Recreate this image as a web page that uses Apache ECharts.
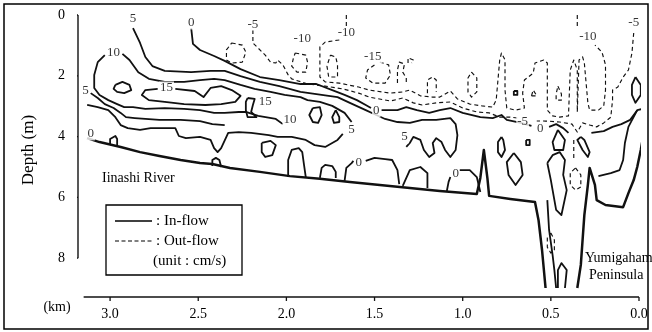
<!DOCTYPE html>
<html><head><meta charset="utf-8">
<script src="https://cdn.jsdelivr.net/npm/echarts@6/dist/echarts.min.js"></script>
<style>html,body{margin:0;padding:0;background:#fff}#c{width:652px;height:332px}</style>
</head><body><div id="c"></div>
<script>
// ---- axes ----
const xTicks = [0, 0.5, 1.0, 1.5, 2.0, 2.5, 3.0];
const yTicks = [0, 2, 4, 6, 8];
const xMaxKm = 3.182;
const yMaxDepth = 9.276;
const xAxisStartKm = 3.15;

// ---- channel bed (km, depth m) ----
const bedMain = [[3.13,4.05],[3.06,4.18],[2.94,4.34],[2.83,4.51],[2.72,4.64],[2.60,4.77],[2.49,4.87],[2.42,4.90],[2.32,5.03],[2.15,5.16],[1.98,5.30],[1.81,5.39],[1.64,5.49],[1.47,5.59],[1.30,5.69],[1.13,5.79],[0.92,5.89],[0.90,5.36],[0.88,4.44],[0.86,5.36],[0.85,5.95],[0.73,6.05],[0.59,6.15],[0.57,6.74],[0.55,7.73],[0.53,8.98]];
const bedRight = [[0.35,8.98],[0.33,8.22],[0.32,7.40],[0.31,6.58],[0.29,5.59],[0.28,5.03],[0.27,5.03],[0.25,5.59],[0.24,6.09],[0.19,6.25],[0.09,6.32],[0.06,5.86],[0.03,5.43],[0.01,5.00],[-0.01,4.44],[-0.03,3.78],[-0.05,3.19]];

// ---- in-flow contours (solid) ----
const in0a = [[2.54,0.43],[2.53,0.95],[2.49,1.15],[2.41,1.35],[2.35,1.51],[2.26,1.78],[2.15,2.04],[2.04,2.14],[1.92,2.27],[1.83,2.27],[1.74,2.47],[1.67,2.63],[1.60,2.80],[1.55,2.96],[1.52,3.06]];
const in0b = [[1.46,3.13],[1.37,3.13],[1.32,3.03],[1.26,3.13],[1.19,3.22],[1.13,3.13],[1.07,3.06],[1.00,3.22],[0.90,3.36],[0.83,3.39],[0.78,3.29],[0.75,3.45],[0.67,3.55],[0.61,3.65]];
const in0c = [[0.51,3.68],[0.47,3.59],[0.43,3.72],[0.40,3.88]];
const in0d = [[0.27,3.88],[0.20,3.82],[0.15,3.68],[0.10,3.59],[0.05,3.45],[0.01,3.13]];
const in5 = [[2.87,0.43],[2.83,0.92],[2.80,1.38],[2.76,1.68],[2.69,1.84],[2.54,1.88],[2.43,1.84],[2.35,1.84],[2.26,2.01],[2.15,2.20],[2.04,2.34],[1.92,2.53],[1.83,2.60],[1.71,2.70],[1.64,2.89],[1.55,3.13],[1.49,3.29],[1.44,3.42],[1.37,3.52],[1.30,3.55],[1.23,3.45],[1.15,3.45],[1.07,3.39],[1.04,3.59],[1.03,3.95],[1.04,4.44],[1.07,4.67],[1.10,4.44],[1.12,4.18],[1.15,4.05],[1.17,4.21],[1.16,4.54],[1.19,4.67],[1.22,4.44],[1.24,4.11],[1.28,4.01],[1.30,4.21],[1.32,4.34]];
const in10L = [[3.03,1.32],[3.07,1.55],[3.09,1.97],[3.09,2.40],[3.06,2.63],[3.01,2.80],[2.96,2.93],[2.92,3.03],[2.87,3.03],[2.80,3.09],[2.69,3.06],[2.58,3.09],[2.49,3.13],[2.41,3.22],[2.35,3.22],[2.27,3.19],[2.23,3.19],[2.16,3.32],[2.06,3.42],[2.02,3.59]];
const in10R = [[2.93,1.28],[2.89,1.48],[2.84,1.88],[2.78,2.10],[2.69,2.20],[2.58,2.20],[2.49,2.14],[2.41,2.10],[2.35,2.14],[2.26,2.30],[2.18,2.43],[2.09,2.53],[2.01,2.63],[1.92,2.70],[1.88,2.80],[1.81,2.86],[1.74,2.99],[1.67,3.22],[1.63,3.52]];
const in15 = [[2.63,2.43],[2.52,2.50],[2.47,2.70],[2.43,2.40],[2.37,2.34],[2.31,2.47],[2.26,2.66],[2.29,2.86],[2.37,2.93],[2.46,2.96],[2.58,2.93],[2.69,2.86],[2.78,2.80],[2.82,2.63],[2.80,2.47],[2.73,2.43]];
const inLoopA = [[2.97,2.30],[2.93,2.20],[2.89,2.30],[2.88,2.47],[2.92,2.57],[2.96,2.53],[2.98,2.43],[2.97,2.30]];
const inLoop15 = [[2.22,2.73],[2.18,2.76],[2.19,2.96],[2.20,3.19],[2.17,3.36],[2.22,3.36],[2.23,3.13],[2.23,2.86],[2.22,2.73]];
const in5L = [[3.11,2.57],[3.07,2.73],[3.03,2.93],[2.98,3.06],[2.94,3.22],[2.91,3.36],[2.86,3.39],[2.80,3.42],[2.72,3.45],[2.60,3.45],[2.49,3.49],[2.42,3.59],[2.35,3.62]];
const inLow = [[3.13,2.96],[3.07,3.03],[3.01,3.13],[2.97,3.36],[2.94,3.62],[2.90,3.72],[2.83,3.78],[2.77,3.72],[2.69,3.72],[2.63,3.72],[2.61,3.98],[2.57,4.05],[2.49,4.01],[2.43,4.11],[2.41,4.38],[2.39,4.51],[2.37,4.38],[2.33,3.88],[2.27,3.85],[2.20,3.88],[2.10,3.95],[2.05,4.01],[1.97,4.01],[1.89,4.11],[1.84,4.28],[1.78,4.34],[1.71,4.11],[1.68,3.91]];
const inBlobA = [[1.85,3.06],[1.81,3.03],[1.80,3.29],[1.82,3.55],[1.85,3.52],[1.87,3.29],[1.85,3.06]];
const inBlobB = [[1.72,3.13],[1.70,3.36],[1.70,3.52],[1.73,3.55],[1.74,3.36],[1.72,3.13]];
const inBlobC = [[2.14,4.21],[2.09,4.14],[2.06,4.28],[2.08,4.61],[2.12,4.67],[2.14,4.51],[2.14,4.21]];
const inArchL = [[3.00,4.28],[3.00,4.08],[2.97,3.98],[2.96,4.08],[2.96,4.31]];
const inArchM = [[2.42,4.97],[2.42,4.77],[2.40,4.70],[2.38,4.77],[2.37,5.00]];
const inArch1 = [[1.99,5.33],[1.99,4.77],[1.97,4.44],[1.93,4.38],[1.91,4.51],[1.90,4.93],[1.89,5.33]];
const inArch2 = [[1.81,5.36],[1.80,5.03],[1.78,4.93],[1.74,4.97],[1.72,5.16],[1.72,5.36]];
const inArc3a = [[1.67,5.46],[1.66,5.03],[1.63,4.87],[1.62,4.80]];
const inArc3b = [[1.55,4.80],[1.50,4.70],[1.44,4.74],[1.40,4.77],[1.37,5.10],[1.36,5.56]];
const inArch4 = [[1.34,5.62],[1.30,5.10],[1.24,5.00],[1.20,5.20],[1.20,5.69]];
const inArc5a = [[1.09,5.79],[1.08,5.49],[1.07,5.33]];
const inArc5b = [[1.02,5.10],[0.96,5.10],[0.92,5.33],[0.90,5.82]];
const inR1 = [[0.78,4.01],[0.77,4.11],[0.76,4.44],[0.78,4.67],[0.80,4.51],[0.80,4.18],[0.78,4.01]];
const inR2 = [[0.71,4.54],[0.67,4.84],[0.66,5.26],[0.70,5.59],[0.74,5.26],[0.75,4.84],[0.71,4.54]];
const inR3 = [[0.64,4.11],[0.62,4.11],[0.62,4.28],[0.64,4.28],[0.64,4.11]];
const inR3b = [[0.71,2.50],[0.69,2.50],[0.69,2.63],[0.71,2.63],[0.71,2.50]];
const inR4 = [[0.46,3.78],[0.42,4.11],[0.43,4.44],[0.48,4.44],[0.49,4.18],[0.46,3.78]];
const inR5 = [[0.33,4.01],[0.31,4.11],[0.28,4.51],[0.29,4.67],[0.32,4.44],[0.35,4.11],[0.33,4.01]];
const inR6 = [[0.52,4.87],[0.49,4.61],[0.45,4.51],[0.42,4.77],[0.43,5.26],[0.41,5.76],[0.44,6.58],[0.47,6.41],[0.49,5.76],[0.50,5.43],[0.52,4.87]];
const inR7 = [[0.52,6.09],[0.51,7.07],[0.49,7.90],[0.48,8.39],[0.47,8.98]];
const inR8 = [[0.46,8.98],[0.46,8.39],[0.44,8.16],[0.41,8.39],[0.42,8.98]];
const inR9 = [[0.02,2.04],[-0.01,2.30],[-0.01,2.63],[0.02,2.89],[0.04,2.63],[0.04,2.30],[0.02,2.04]];
const inR10 = [[-0.04,3.06],[0.01,3.13],[0.06,3.68],[0.08,4.21],[0.09,4.77],[0.11,5.10],[0.16,5.20],[0.23,5.30]];

// ---- out-flow contours (dashed) ----
const out10top = [[1.66,0.00],[1.66,0.36]];
const out10 = [[1.70,0.82],[1.78,0.89],[1.81,1.05],[1.81,2.04],[1.78,2.20],[1.70,2.24],[1.59,2.37],[1.53,2.47],[1.41,2.57],[1.34,2.53],[1.30,2.47],[1.24,2.66],[1.17,2.70],[1.13,2.70],[1.07,2.50],[1.03,2.76],[0.96,2.93],[0.89,2.99],[0.83,3.03],[0.81,2.80],[0.80,2.14],[0.79,1.48],[0.78,1.25],[0.76,1.48],[0.76,2.47],[0.75,3.06],[0.70,3.13],[0.65,3.06],[0.66,2.57],[0.65,2.14],[0.60,1.91],[0.59,1.58],[0.54,1.48],[0.52,1.58],[0.52,2.47],[0.52,3.13],[0.49,3.32],[0.45,3.36],[0.40,3.32],[0.39,1.81],[0.37,1.48],[0.35,1.81],[0.35,3.19],[0.34,3.13],[0.34,1.48],[0.32,1.38],[0.31,1.58],[0.29,2.89],[0.28,3.13],[0.23,3.13],[0.20,2.99],[0.19,2.47],[0.19,1.64],[0.21,1.22],[0.25,0.99]];
const out10rTop = [[0.35,0.00],[0.35,0.43]];
const out5 = [[2.19,0.49],[2.19,0.92],[2.16,1.09],[2.12,1.32],[2.09,1.55],[2.06,1.58],[2.05,1.48],[2.02,1.64],[1.99,1.97],[1.97,2.10],[1.88,2.27],[1.78,2.34],[1.68,2.43],[1.59,2.57],[1.53,2.70],[1.41,2.83],[1.34,2.73],[1.28,2.89],[1.23,2.96],[1.15,2.89],[1.07,2.86],[1.00,3.06],[0.92,3.19],[0.85,3.22],[0.79,3.36],[0.73,3.36],[0.69,3.39]];
const out5R = [[0.03,0.59],[0.04,1.25],[0.06,1.81],[0.09,2.04],[0.12,2.37],[0.15,2.47],[0.15,2.80],[0.16,3.36],[0.20,3.55],[0.24,3.68],[0.28,3.62],[0.32,3.55],[0.35,3.85],[0.38,3.59],[0.45,3.52],[0.52,3.49],[0.58,3.49]];
const outLoopA = [[2.31,0.92],[2.25,0.99],[2.23,1.22],[2.25,1.55],[2.31,1.58],[2.34,1.48],[2.34,1.15],[2.31,0.92]];
const outLoopB = [[1.95,1.25],[1.89,1.32],[1.88,1.55],[1.89,1.88],[1.94,1.88],[1.97,1.68],[1.96,1.41],[1.95,1.25]];
const outLoopC = [[1.75,1.32],[1.72,1.38],[1.71,1.64],[1.71,2.04],[1.76,2.04],[1.77,1.68],[1.75,1.32]];
const out15 = [[1.47,1.55],[1.42,1.64],[1.41,1.97],[1.44,2.24],[1.51,2.24],[1.55,2.07],[1.54,1.81],[1.50,1.64]];
const outLoopE = [[1.37,2.24],[1.37,1.81],[1.36,1.55],[1.33,1.61],[1.34,1.88],[1.32,2.07],[1.32,2.24]];
const outLoopF = [[1.31,1.58],[1.31,1.41],[1.28,1.48],[1.29,1.58]];
const outLoopG = [[1.20,2.57],[1.20,2.14],[1.17,2.04],[1.15,2.14],[1.15,2.53]];
const outLoopH = [[0.95,1.88],[0.92,2.07],[0.92,2.53],[0.95,2.70],[0.97,2.53],[0.97,2.07],[0.95,1.88]];
const outLoopI = [[0.61,2.66],[0.60,2.47],[0.58,2.66],[0.61,2.66]];
const outLoopJ = [[0.46,2.34],[0.44,2.60],[0.44,2.80],[0.47,2.80],[0.47,2.60],[0.46,2.34]];
const outLoopK = [[0.36,5.03],[0.33,5.26],[0.33,5.66],[0.36,5.76],[0.39,5.59],[0.39,5.20],[0.36,5.03]];
const outLoopL = [[0.50,7.17],[0.48,7.40],[0.48,7.73],[0.50,7.83],[0.52,7.64],[0.52,7.33],[0.50,7.17]];
const outLineM = [[0.37,4.11],[0.37,4.77]];

// ---- contour labels ----
const contourLabelText = ['5','0','10','5','15','0','-5','-10','-10','-15','15','10','5','0','5','0','0','-5','0','-10','-5'];
const contourLabelPos = [[2.87,0.13],[2.54,0.26],[2.98,1.25],[3.14,2.47],[2.68,2.40],[3.11,3.91],[2.19,0.30],[1.91,0.76],[1.66,0.59],[1.51,1.38],[2.12,2.86],[1.98,3.45],[1.63,3.78],[1.49,3.16],[1.33,4.01],[1.59,4.84],[1.04,5.20],[0.66,3.49],[0.56,3.72],[0.29,0.72],[0.03,0.26]];

const inflowSet = [in0a,in0b,in0c,in0d,in5,in10L,in10R,in15,inLoopA,inLoop15,in5L,inLow,inBlobA,inBlobB,inBlobC,inArchL,inArchM,inArch1,inArch2,inArc3a,inArc3b,inArch4,inArc5a,inArc5b,inR1,inR2,inR3,inR3b,inR4,inR5,inR6,inR7,inR8,inR9,inR10];
const outflowSet = [out10top,out10,out10rTop,out5,out5R,outLoopA,outLoopB,outLoopC,out15,outLoopE,outLoopF,outLoopG,outLoopH,outLoopI,outLoopJ,outLoopK,outLoopL,outLineM];

const FONT = 'Liberation Serif';
const X_TICK_LEN = 0.13;   // in depth units (about 4 px)
const Y_TICK_LEN = 0.03;   // in km units (about 5 px)
function lineS(data, width, type, z) {
  return {type:'line', data:data, symbol:'none', clip:false, silent:true, animation:false,
    lineStyle:{color:'#111', width:width, type:type, join:'round', cap:'butt'}, z:z};
}
const series = [];
series.push(lineS(bedMain, 2.5, 'solid', 4));
series.push(lineS(bedRight, 2.5, 'solid', 4));
inflowSet.forEach(d => series.push(lineS(d, 1.8, 'solid', 3)));
outflowSet.forEach(d => series.push(lineS(d, 1.15, [4,3], 3)));
// axis lines and ticks drawn from the tick arrays
series.push(lineS([[xMaxKm, yTicks[0]], [xMaxKm, yTicks[yTicks.length-1]]], 1.4, 'solid', 5));
series.push(lineS([[xAxisStartKm, yMaxDepth], [xTicks[0], yMaxDepth]], 1.4, 'solid', 5));
xTicks.forEach(v => series.push(lineS([[v, yMaxDepth], [v, yMaxDepth + X_TICK_LEN]], 1.3, 'solid', 5)));
yTicks.forEach(v => series.push(lineS([[xMaxKm, v], [xMaxKm + Y_TICK_LEN, v]], 1.3, 'solid', 5)));
series.push({
  type:'scatter', silent:true, animation:false, symbolSize:1, itemStyle:{color:'rgba(0,0,0,0)'}, z:10,
  data: contourLabelText.map((t,i)=>({name:t, value:contourLabelPos[i]})),
  label:{show:true, position:'inside', formatter:p=>p.name, color:'#000', fontFamily:FONT, fontSize:13,
    backgroundColor:'#fff', padding:[0,1]}
});

const chart = echarts.init(document.getElementById('c'), null, {renderer:'canvas'});
chart.setOption({
  animation:false,
  backgroundColor:'#fff',
  grid:{left:78, right:13, top:15, bottom:35},
  xAxis:{type:'value', inverse:true, min:0, max:xMaxKm, interval:0.5, position:'bottom',
    axisLine:{show:false, onZero:false},
    axisTick:{show:false},
    axisLabel:{customValues:xTicks, formatter:v=>Number(v).toFixed(1), margin:10, color:'#000', fontFamily:FONT, fontSize:14},
    splitLine:{show:false}},
  yAxis:{type:'value', inverse:true, min:0, max:yMaxDepth, interval:2, position:'left',
    axisLine:{show:false, onZero:false},
    axisTick:{show:false},
    axisLabel:{customValues:yTicks, margin:13, color:'#000', fontFamily:FONT, fontSize:14},
    splitLine:{show:false}},
  series:series,
  graphic:[
    {type:'rect', shape:{x:4, y:4, width:644, height:325}, style:{fill:'none', stroke:'#000', lineWidth:1.5}, z:20},
    {type:'text', x:29, y:150, rotation:Math.PI/2, style:{text:'Depth (m)', font:'17px "Liberation Serif"', fill:'#000', textAlign:'center', textVerticalAlign:'middle'}},
    {type:'text', x:57, y:307, style:{text:'(km)', font:'14px "Liberation Serif"', fill:'#000', textAlign:'center', textVerticalAlign:'middle'}},
    {type:'text', x:102, y:178, style:{text:'Iinashi River', font:'14px "Liberation Serif"', fill:'#000', textAlign:'left', textVerticalAlign:'middle'}},
    {type:'text', x:585, y:258, style:{text:'Yumigahama', font:'14px "Liberation Serif"', fill:'#000', textAlign:'left', textVerticalAlign:'middle'}, z:20},
    {type:'text', x:589, y:275, style:{text:'Peninsula', font:'14px "Liberation Serif"', fill:'#000', textAlign:'left', textVerticalAlign:'middle'}, z:20},
    {type:'rect', shape:{x:106, y:205, width:136, height:70}, style:{fill:'#fff', stroke:'#000', lineWidth:1.3}, z:15},
    {type:'line', shape:{x1:115, y1:221, x2:152, y2:221}, style:{stroke:'#000', lineWidth:1.6}, z:16},
    {type:'line', shape:{x1:115, y1:241, x2:152, y2:241}, style:{stroke:'#000', lineWidth:1.1, lineDash:[4,2.5]}, z:16},
    {type:'text', x:156, y:221, style:{text:': In-flow', font:'15px "Liberation Serif"', fill:'#000', textVerticalAlign:'middle'}, z:16},
    {type:'text', x:156, y:241, style:{text:': Out-flow', font:'15px "Liberation Serif"', fill:'#000', textVerticalAlign:'middle'}, z:16},
    {type:'text', x:153, y:261, style:{text:'(unit : cm/s)', font:'15px "Liberation Serif"', fill:'#000', textVerticalAlign:'middle'}, z:16}
  ]
});
</script>
</body></html>
